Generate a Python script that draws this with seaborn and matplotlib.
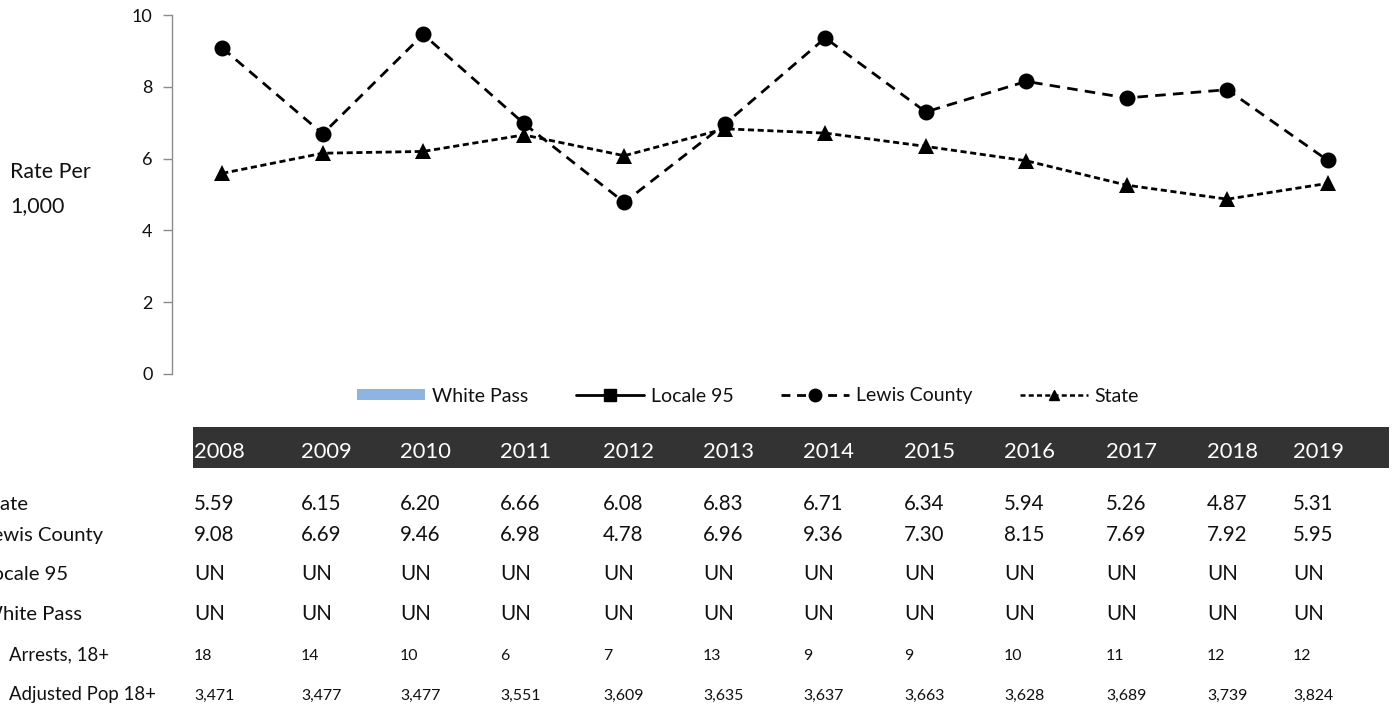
import matplotlib
matplotlib.use("Agg")
import matplotlib.pyplot as plt
from matplotlib.lines import Line2D
from matplotlib.patches import Patch, Rectangle
import numpy as np
import pandas as pd
import seaborn as sns

# ---- data -------------------------------------------------------------
years = [2008, 2009, 2010, 2011, 2012, 2013, 2014, 2015, 2016, 2017, 2018, 2019]
state_rate = [5.59, 6.15, 6.20, 6.66, 6.08, 6.83, 6.71, 6.34, 5.94, 5.26, 4.87, 5.31]
lewis_rate = [9.08, 6.69, 9.46, 6.98, 4.78, 6.96, 9.36, 7.30, 8.15, 7.69, 7.92, 5.95]
locale_rate = ["UN"] * 12
white_pass_rate = ["UN"] * 12
arrests_18 = [18, 14, 10, 6, 7, 13, 9, 9, 10, 11, 12, 12]
adjusted_pop_18 = [3471, 3477, 3477, 3551, 3609, 3635, 3637, 3663, 3628, 3689, 3739, 3824]

series_names = ["White Pass", "Locale 95", "Lewis County", "State"]
y_ticks = [0, 2, 4, 6, 8, 10]

# ---- figure setup -------------------------------------------------------
W, H = 1395, 709
sns.set_theme(style="white")
plt.rcParams["font.family"] = ["Lato", "DejaVu Sans"]
TXT = "#111111"
AXIS_GREY = "#8c8c8c"

fig = plt.figure(figsize=(W / 100, H / 100), dpi=100)


def fx(px):
    return px / W


def fy(py):
    return 1 - py / H


# plot area: x from 172 to 1378 px, y=10 at 15 px, y=0 at 374 px
ax = fig.add_axes([fx(172), fy(374), fx(1378) - fx(172), fy(15) - fy(374)])

df = pd.DataFrame({
    "idx": list(range(len(years))) * 2,
    "rate": lewis_rate + state_rate,
    "series": ["Lewis County"] * len(years) + ["State"] * len(years),
})

sns.lineplot(
    data=df, x="idx", y="rate", hue="series", style="series",
    palette={"Lewis County": "black", "State": "black"},
    markers={"Lewis County": "o", "State": "^"},
    dashes={"Lewis County": (3.8, 2.6), "State": (2.2, 1.3)},
    markersize=11.5, markeredgewidth=0, linewidth=2.0,
    legend=False, ax=ax, zorder=3,
)

ax.set_xlim(-0.5, len(years) - 0.5)
ax.set_ylim(0, 10)
ax.set_yticks(y_ticks)
ax.set_yticklabels([str(t) for t in y_ticks])
ax.set_xticks([])
ax.set_xlabel("")
ax.set_ylabel("")
for side in ["top", "right", "bottom"]:
    ax.spines[side].set_visible(False)
ax.spines["left"].set_color(AXIS_GREY)
ax.spines["left"].set_linewidth(1.0)
ax.tick_params(axis="y", which="major", direction="out", length=6.5, width=1.0,
               color=AXIS_GREY, pad=7.5, labelsize=13, labelcolor=TXT, left=True)
ax.patch.set_alpha(0)

# y-axis title, placed as two left-aligned lines
fig.text(fx(10), fy(178), "Rate Per", fontsize=15.4, color=TXT, ha="left", va="baseline")
fig.text(fx(10), fy(212.5), "1,000", fontsize=15.4, color=TXT, ha="left", va="baseline")

# ---- legend -------------------------------------------------------------
handles = [
    Patch(facecolor="#8DB4E2", edgecolor="none"),
    Line2D([], [], color="black", linewidth=2, marker="s", markersize=8),
    Line2D([], [], color="black", linewidth=2, linestyle=(0, (3.2, 2.4)),
           marker="o", markersize=9),
    Line2D([], [], color="black", linewidth=1.8, linestyle=(0, (2.0, 1.3)),
           marker="^", markersize=7.5),
]
leg = fig.legend(
    handles, series_names, loc="center", bbox_to_anchor=(fx(748), fy(396)),
    ncol=4, frameon=False, fontsize=14, handlelength=3.5, handleheight=0.45,
    handletextpad=0.35, columnspacing=2.45, labelcolor=TXT,
)

# ---- data table ---------------------------------------------------------
col_x = [194, 301, 400, 500, 603, 703, 803, 904, 1004, 1106, 1207, 1293]

fig.patches.append(Rectangle((fx(193), fy(468)), fx(1389) - fx(193), fy(427) - fy(468),
                             transform=fig.transFigure, facecolor="#333333",
                             edgecolor="none", zorder=1))
for x, yr in zip(col_x, years):
    fig.text(fx(x), fy(458), str(yr), fontsize=15.8, color="white",
             ha="left", va="baseline", zorder=2)

rows = [
    ("State", [f"{v:.2f}" for v in state_rate], 510, -18, 14.6, 14.8),
    ("Lewis County", [f"{v:.2f}" for v in lewis_rate], 541, -18, 14.6, 14.8),
    ("Locale 95", locale_rate, 580.5, -18, 14.6, 14.8),
    ("White Pass", white_pass_rate, 620, -18, 14.6, 14.8),
    ("Arrests, 18+", [str(v) for v in arrests_18], 660.5, 9, 13.4, 11.4),
    ("Adjusted Pop 18+", [f"{v:,}" for v in adjusted_pop_18], 700, 9, 13.4, 11.4),
]
for label, vals, base, lx, lsize, vsize in rows:
    fig.text(fx(lx), fy(base), label, fontsize=lsize, color=TXT, ha="left", va="baseline")
    for x, v in zip(col_x, vals):
        fig.text(fx(x), fy(base), v, fontsize=vsize, color=TXT, ha="left", va="baseline")

fig.savefig("out.png", dpi=100, facecolor="white")
